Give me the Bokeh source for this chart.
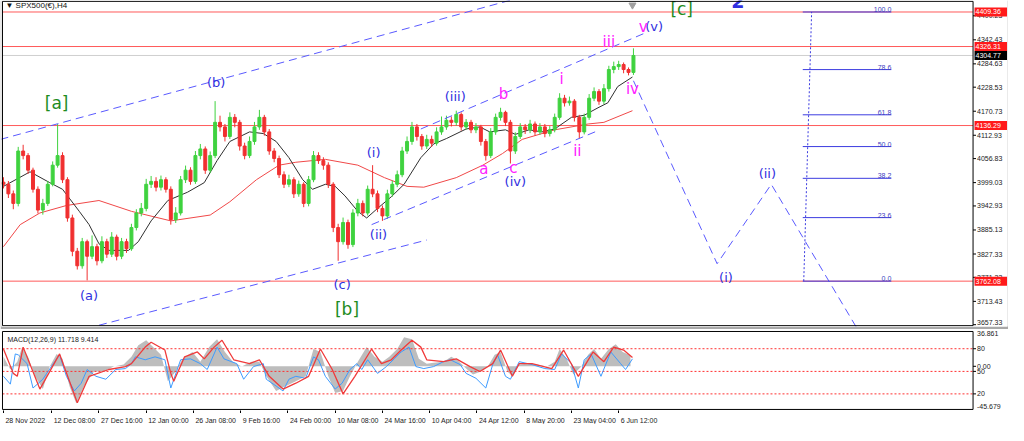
from bokeh.plotting import figure
from bokeh.layouts import column
from bokeh.models import (Range1d, FixedTicker, Label, ColumnDataSource, Span)
from bokeh.embed import file_html
from bokeh.resources import INLINE
from bokeh.core.properties import value

# ---------------- data ----------------
closes = [3995, 3972, 3949, 4075, 4064, 4029, 3983, 3933, 3949, 3995,
          4041, 4064, 4006, 3914, 3834, 3799, 3857, 3822, 3845, 3811,
          3857, 3827, 3868, 3822, 3857, 3840, 3891, 3926, 3937, 3995,
          4002, 3988, 4006, 3983, 3910, 3926, 4006, 4029, 4002, 4064,
          4080, 4029, 4064, 4144, 4133, 4110, 4156, 4144, 4087, 4064,
          4098, 4133, 4156, 4121, 4075, 4057, 4018, 3995, 4006, 3972,
          3995, 3949, 4006, 4064, 4052, 4041, 3995, 3891, 3857, 3903,
          3850, 3926, 3949, 3926, 3983, 3972, 3937, 3919, 3972, 3995,
          4018, 4075, 4098, 4133, 4110, 4087, 4103, 4094, 4121, 4133,
          4149, 4144, 4163, 4133, 4144, 4126, 4133, 4098, 4064, 4121,
          4156, 4168, 4144, 4075, 4110, 4133, 4126, 4140, 4121, 4133,
          4117, 4126, 4156, 4202, 4191, 4195, 4156, 4121, 4156, 4202,
          4218, 4195, 4225, 4271, 4278, 4283, 4271, 4264, 4304.77]
highs = [4012, 4003, 3980, 4085, 4090, 4070, 4035, 3990, 3960, 4003,
         4050, 4140, 4072, 4012, 3922, 3842, 3866, 3862, 3872, 3852,
         3870, 3864, 3880, 3874, 3866, 3864, 3900, 3935, 3950, 4008,
         4015, 4012, 4016, 4012, 3990, 3940, 4015, 4040, 4036, 4075,
         4092, 4086, 4074, 4195, 4160, 4140, 4168, 4164, 4150, 4095,
         4110, 4145, 4174, 4162, 4128, 4082, 4064, 4026, 4018, 4012,
         4004, 4000, 4015, 4075, 4072, 4060, 4048, 4000, 3900, 3915,
         3910, 3935, 3960, 3956, 3992, 4041, 3980, 3944, 3982, 4004,
         4028, 4085, 4110, 4145, 4140, 4116, 4114, 4112, 4132, 4158,
         4160, 4158, 4172, 4168, 4152, 4150, 4142, 4138, 4104, 4130,
         4165, 4179, 4172, 4150, 4120, 4142, 4140, 4150, 4146, 4142,
         4140, 4135, 4165, 4214, 4210, 4206, 4200, 4162, 4165, 4212,
         4228, 4224, 4236, 4280, 4290, 4292, 4288, 4276, 4322]
lows = [3985, 3962, 3935, 3942, 4055, 4020, 3975, 3925, 3922, 3943,
        3990, 4035, 3998, 3905, 3822, 3790, 3792, 3764, 3815, 3800,
        3805, 3818, 3820, 3812, 3815, 3830, 3835, 3884, 3918, 3930,
        3986, 3978, 3980, 3975, 3898, 3902, 3920, 3998, 3994, 3996,
        4055, 4020, 4022, 4058, 4122, 4098, 4104, 4132, 4076, 4055,
        4058, 4090, 4126, 4112, 4066, 4048, 4010, 3986, 3988, 3962,
        3965, 3940, 3942, 4000, 4044, 4030, 3986, 3880, 3811, 3850,
        3840, 3844, 3918, 3918, 3920, 3964, 3928, 3907, 3912, 3965,
        3988, 4012, 4068, 4090, 4100, 4078, 4080, 4085, 4088, 4114,
        4126, 4134, 4136, 4124, 4126, 4118, 4118, 4088, 4052, 4058,
        4114, 4148, 4135, 4045, 4068, 4104, 4116, 4118, 4112, 4114,
        4108, 4110, 4120, 4150, 4182, 4184, 4146, 4105, 4115, 4150,
        4195, 4186, 4188, 4218, 4262, 4270, 4262, 4257, 4258]
first_open = 4000

ma_fast_bar = [0, 27, 47, 60, 77, 87, 97, 107, 127, 137, 150, 167, 187, 204, 217,
               230, 250, 264, 277, 290, 304, 314, 327, 337, 347, 360, 369, 380, 394,
               407, 424, 437, 450, 470, 484, 494, 510, 520, 534, 547, 560, 577, 590,
               604, 614, 624, 639]
ma_fast = [3990, 4025, 3999, 3983, 3930, 3898, 3852, 3836, 3836, 3857, 3907, 3956,
           3976, 3999, 4052, 4098, 4121, 4117, 4098, 4059, 4006, 3983, 3995, 3990,
           3967, 3930, 3914, 3937, 3965, 3995, 4059, 4092, 4105, 4128, 4133, 4121,
           4126, 4115, 4126, 4121, 4128, 4156, 4161, 4179, 4191, 4230, 4253]
ma_slow_bar = [0, 17, 37, 64, 97, 130, 170, 210, 230, 257, 280, 297, 327, 360, 387,
               410, 427, 460, 487, 507, 527, 560, 594, 610, 639]
ma_slow = [3845, 3898, 3926, 3944, 3956, 3930, 3907, 3921, 3953, 4006, 4041, 4048,
           4055, 4041, 4011, 3990, 3988, 4011, 4041, 4069, 4103, 4126, 4140, 4144, 4172]

levels = [4409.36, 4326.31, 4136.29, 3762.08]
last_price = 4304.77
price_ticks = [4400.23, 4342.43, 4284.63, 4228.53, 4170.73, 4112.93, 4056.83,
               3999.03, 3942.93, 3885.13, 3827.33, 3771.23, 3713.43]
price_bottom = 3657.33

date_bars = [0, 49, 97, 145, 193, 241, 289, 337, 385, 433, 481, 529, 577, 625]
date_labels = ["28 Nov 2022", "12 Dec 08:00", "27 Dec 16:00", "12 Jan 00:00",
               "26 Jan 08:00", "9 Feb 16:00", "24 Feb 00:00", "10 Mar 08:00",
               "24 Mar 16:00", "10 Apr 04:00", "24 Apr 12:00", "8 May 20:00",
               "23 May 04:00", "6 Jun 12:00"]

fib_ratios = [1.0, 0.786, 0.618, 0.5, 0.382, 0.236, 0.0]
fib_names = ["100.0", "78.6", "61.8", "50.0", "38.2", "23.6", "0.0"]
fib_low, fib_high = 3762.08, 4409.36

# trend channels and projection (bar, price)
chan_up_long = ([-3, 517], [4103, 4439])
chan_lo_long = ([97, 430], [3656, 3861])
chan_up_short = ([424, 652], [4128, 4359])
chan_lo_short = ([374, 604], [3898, 4124])
proj_bar = [640, 725, 780, 867]
proj_price = [4244, 3804, 3995, 3649]

# MACD panel
sig_bar = [0, 10, 14, 20, 37, 57, 75, 87, 107, 124, 130, 144, 150, 164, 170, 173,
           184, 197, 204, 214, 222, 234, 250, 260, 270, 284, 297, 310, 322, 334, 345,
           357, 374, 384, 394, 404, 415, 424, 430, 447, 460, 474, 484, 497, 505, 517,
           524, 537, 557, 569, 584, 599, 610, 620, 630, 639]
sig_val = [18.3, -7.5, -10.6, 20.3, -24.1, 13.1, -38.5, -10.6, -3.4, -0.3, 2.8, 20.3,
           25.5, 17.2, -7.5, -15.8, 10.0, 15.2, 7.9, 20.3, 27.6, 6.9, 2.8, 6.9, -10.6,
           -24.1, -17.9, -10.6, 18.3, -3.4, -29.2, -10.6, 18.3, 2.8, 6.9, 17.2, 27.6,
           20.3, 6.9, 4.9, 7.9, -0.3, -5.5, 2.8, 17.2, -10.6, 2.8, 2.8, -2.4, 17.2,
           -10.6, 15.2, 4.9, 20.3, 17.2, 9.4]
fast_bar = [0, 7, 12, 15, 24, 30, 40, 52, 57, 64, 72, 79, 85, 94, 104, 114, 124, 130,
            134, 144, 154, 164, 170, 180, 190, 200, 207, 217, 224, 237, 244, 254, 264,
            267, 277, 284, 290, 297, 307, 315, 320, 327, 337, 344, 352, 359, 364, 370,
            380, 389, 397, 404, 412, 419, 427, 437, 447, 454, 464, 470, 480, 490, 497,
            502, 510, 515, 524, 537, 550, 560, 567, 577, 584, 590, 597, 607, 617, 627,
            632, 639]
fast_val = [-10.6, -18.9, 13.1, 12.1, 2.8, -23.0, -13.7, 4.9, 12.1, -10.6, -26.1, -17.9,
            -3.4, -10.6, -13.7, -3.4, -2.4, 2.8, 10.0, 6.9, 10.0, 6.9, -23.0, 6.9, 7.9,
            2.8, -3.4, 20.3, 7.9, 2.8, -13.7, -0.3, 2.8, -13.7, -20.9, -26.1, -13.7,
            -10.6, -12.7, 10.0, 6.9, -10.6, -24.1, -17.9, -3.4, 2.8, -3.4, 6.9, -7.5,
            -0.3, 7.9, 15.2, 20.3, -0.3, -2.4, -0.3, 4.9, 6.9, 1.8, -7.5, -12.7, -23.0,
            1.8, 12.1, -10.6, -13.7, 4.9, 1.8, -2.4, -3.4, 13.1, 2.8, -23.0, 6.9, 13.1,
            -10.6, 15.2, 2.8, -3.4, 7.9]
hist_bar = [0, 7, 14, 19, 25, 32, 40, 47, 54, 60, 67, 74, 82, 92, 102, 112, 122, 130,
            137, 145, 152, 160, 167, 175, 182, 192, 200, 209, 217, 225, 233, 242, 252,
            260, 267, 277, 287, 297, 307, 315, 322, 330, 337, 345, 352, 360, 369, 377,
            385, 392, 400, 407, 415, 422, 430, 437, 447, 455, 462, 470, 477, 485, 492,
            499, 505, 512, 517, 524, 532, 542, 552, 560, 565, 572, 579, 587, 594, 600,
            607, 615, 622, 629, 637]
hist_val = [10.0, -3.4, 4.9, 20.3, 10.0, -10.6, -24.1, -0.3, 13.1, 7.9, -20.9, -39.5,
            -20.9, -5.5, -5.5, -0.3, 1.8, 10.0, 22.4, 27.6, 20.3, 12.1, -15.8, -5.5, 7.9,
            15.2, 4.9, 20.3, 28.6, 15.2, 4.9, -0.3, 4.9, 4.9, -10.6, -26.1, -20.9, -15.8,
            -10.6, 18.3, 15.2, -10.6, -28.2, -26.1, -10.6, 4.9, 20.3, 10.0, 4.9, 10.0,
            18.3, 30.7, 28.6, 7.9, 2.8, 3.8, 4.9, 10.0, 5.9, -2.4, -8.6, -5.5, -0.3, 12.1,
            15.2, -5.5, -10.6, 1.8, 2.8, 1.8, -0.3, 4.9, 18.3, 7.9, -8.6, -0.3, 12.1, 18.3,
            7.9, 18.3, 23.4, 15.2, 11.7]
macd_max, macd_min = 36.861, -45.679
macd_levels = [18.6, -5.4, -29.2]
macd_level_text = ["80", "50", "20"]

# ---------------- styling ----------------
BLUE = "#3030e0"
LINEBLUE = "#5a5aff"
MAG = "#ff22ff"
GREEN = "#1e8c1e"
UP = "#3fd23f"
DN = "#f03030"
LEVEL_RED = "#ff5a5a"
FONT = "DejaVu Sans"
AXFONT = "Liberation Sans"
FW = 1006
X_END = 985          # right edge of the chart area (bars)
xr = Range1d(-2, 1020)

def panel(height, yr, top=0, bottom=0):
    f = figure(frame_width=FW, frame_height=height, x_range=xr, y_range=yr,
               output_backend="svg", toolbar_location=None,
               x_axis_location=None, y_axis_location=None,
               min_border_left=1, min_border_right=1, min_border_top=top,
               min_border_bottom=bottom)
    f.grid.visible = False
    f.outline_line_color = None
    return f

def axis_strip(f, ticks, texts, ymin, ymax):
    # chart frame border and price-scale ticks, drawn through the figure's scales
    f.quad(left=[-1], right=[X_END], bottom=[ymin], top=[ymax], fill_alpha=0,
           line_color="black", line_width=1)
    f.segment(x0=[X_END] * len(ticks), x1=[X_END + 3] * len(ticks), y0=ticks,
              y1=ticks, line_color="black", line_width=1)
    f.text(x=[X_END + 4] * len(ticks), y=ticks, text=texts, text_font=value(AXFONT),
           text_font_size="7px", text_align="left", text_baseline="middle",
           text_color="#222222")

# ---------------- main price panel ----------------
p = panel(326, Range1d(3653, 4437), top=0, bottom=3)
p.border_fill_color = "#a9a9a9"

for lv in levels:
    p.line([-1, X_END], [lv, lv], line_color=LEVEL_RED, line_width=1)
p.line([-1, X_END], [last_price, last_price], line_color="#cfcfcf", line_width=1)

p.line(ma_slow_bar, ma_slow, line_color="#f04848", line_width=1)
p.line(ma_fast_bar, ma_fast, line_color="#303030", line_width=1)

bars = [5 * k for k in range(len(closes))]
opens = [first_open] + closes[:-1]
colors = [UP if c >= o else DN for o, c in zip(opens, closes)]
src = ColumnDataSource(dict(x=bars, o=opens, c=closes, h=highs, l=lows,
                            top=[max(o, c) for o, c in zip(opens, closes)],
                            bot=[min(o, c) for o, c in zip(opens, closes)],
                            col=colors))
p.segment(x0="x", y0="l", x1="x", y1="h", line_color="col", line_width=1, source=src)
p.vbar(x="x", width=3, top="top", bottom="bot", fill_color="col", line_color="col",
       source=src)

for xs, ys in (chan_up_long, chan_lo_long, chan_up_short, chan_lo_short):
    p.line(xs, ys, line_color=LINEBLUE, line_width=1, line_dash="8 5")
p.line(proj_bar, proj_price, line_color=LINEBLUE, line_width=1, line_dash="8 5")

for r, name in zip(fib_ratios, fib_names):
    lv = fib_low + r * (fib_high - fib_low)
    p.line([812, 902], [lv, lv], line_color="#3c3ce0", line_width=1)
    p.add_layout(Label(x=902, y=lv, text=name, text_align="right",
                       text_baseline="bottom", text_font=AXFONT,
                       text_font_size="7px", text_color="#4040c0"))
p.line([813, 821], [fib_low, fib_high], line_color="#3c3ce0", line_width=1,
       line_dash="2 2")

def wl(texts, xs, ys, color, size):
    p.text(x=xs, y=ys, text=texts, text_color=color, text_font=value(FONT),
           text_font_size=size, text_align="center", text_baseline="middle")

wl(["(b)", "(a)", "(c)", "(i)", "(ii)", "(iii)", "(iv)", "(v)", "(ii)", "(i)"],
   [216, 87, 344, 376, 381, 459, 520, 661, 776, 734],
   [4239, 3728, 3753, 4071, 3875, 4207, 4002, 4375, 4020, 3771], BLUE, "13px")
wl(["a", "b", "c", "i", "ii", "iii", "iv", "v"],
   [488, 508, 518, 567, 583, 615, 639, 650],
   [4031, 4211, 4034, 4248, 4075, 4338, 4225, 4373], MAG, "15px")
wl(["[a]", "[b]", "[c]"], [54, 349, 689], [4191, 3695, 4416], GREEN, "17px")
p.text(x=[746], y=[4419], text=["2"], text_color=BLUE, text_font=value(FONT),
       text_font_size="19px", text_font_style="bold", text_align="center",
       text_baseline="bottom")
p.scatter(x=[639], y=[4426], marker="inverted_triangle", size=7,
          fill_color="#a0a0a0", line_color="#a0a0a0")
p.text(x=[2], y=[4424], text=["\u25bc SPX500(\u20ac),H4"], text_font=value(AXFONT),
       text_font_size="8px", text_baseline="middle", text_color="#111111")

axis_strip(p, price_ticks, [f"{t:.2f}" for t in price_ticks], 3655, 4435)
p.segment(x0=[X_END], x1=[X_END + 3], y0=[price_bottom], y1=[price_bottom],
          line_color="black")
p.text(x=[X_END + 4], y=[price_bottom], text=[f"{price_bottom:.2f}"],
       text_font=value(AXFONT), text_font_size="7px", text_baseline="bottom",
       text_color="#222222")

# price tags
tag_vals = levels + [last_price]
tag_cols = ["#ff1a1a"] * len(levels) + ["#000000"]
p.rect(x=[X_END + 18] * len(tag_vals), y=tag_vals, width=33, height=9,
       height_units="screen", fill_color=tag_cols, line_color=None)
p.text(x=[X_END + 2.5] * len(tag_vals), y=tag_vals,
       text=[f"{v:.2f}" for v in tag_vals], text_font=value(AXFONT),
       text_font_size="7px", text_align="left", text_baseline="middle",
       text_color="white")

# ---------------- MACD panel ----------------
m = panel(80, Range1d(-46.8, 37.9), top=1, bottom=0)

m.varea(x=hist_bar, y1=[0] * len(hist_bar), y2=hist_val, fill_color="#bdbdbd")
for lv in macd_levels:
    m.line([-1, X_END], [lv, lv], line_color="#ff3030", line_width=1, line_dash="2 2")
m.line(fast_bar, fast_val, line_color="#3d9bff", line_width=1)
m.line(sig_bar, sig_val, line_color="#f03a3a", line_width=1.3)
m.text(x=[4], y=[28.6], text=["MACD(12,26,9) 11.718 9.414"], text_font=value(AXFONT),
       text_font_size="7px", text_baseline="middle", text_color="#222222")

axis_strip(m, macd_levels + [0.0], macd_level_text + ["0.00"], macd_min, macd_max)
m.text(x=[X_END + 4], y=[macd_max], text=[f"{macd_max:.3f}"], text_font=value(AXFONT),
       text_font_size="7px", text_baseline="top", text_color="#222222")
m.text(x=[X_END + 4], y=[macd_min], text=[f"{macd_min:.3f}"], text_font=value(AXFONT),
       text_font_size="7px", text_baseline="bottom", text_color="#222222")

# date ticks (real axis, tick marks only)
from bokeh.models import LinearAxis
ax = LinearAxis(ticker=FixedTicker(ticks=date_bars),
                major_label_overrides={b: "" for b in date_bars},
                major_label_text_font_size="1px", major_label_standoff=0,
                major_tick_out=3, major_tick_in=0, minor_tick_out=0,
                minor_tick_in=0, axis_line_color=None)
m.add_layout(ax, "below")

# ---------------- date labels row (left-aligned at the ticks) ----------------
d = panel(11, Range1d(0, 1))
d.text(x=date_bars, y=[0.5] * len(date_bars), text=date_labels,
       text_font=value(AXFONT), text_font_size="7px", text_align="left",
       text_baseline="middle", text_color="#222222", x_offset=2)

layout = column(p, m, d, spacing=0)
open("out.html", "w").write(file_html(layout, INLINE))
